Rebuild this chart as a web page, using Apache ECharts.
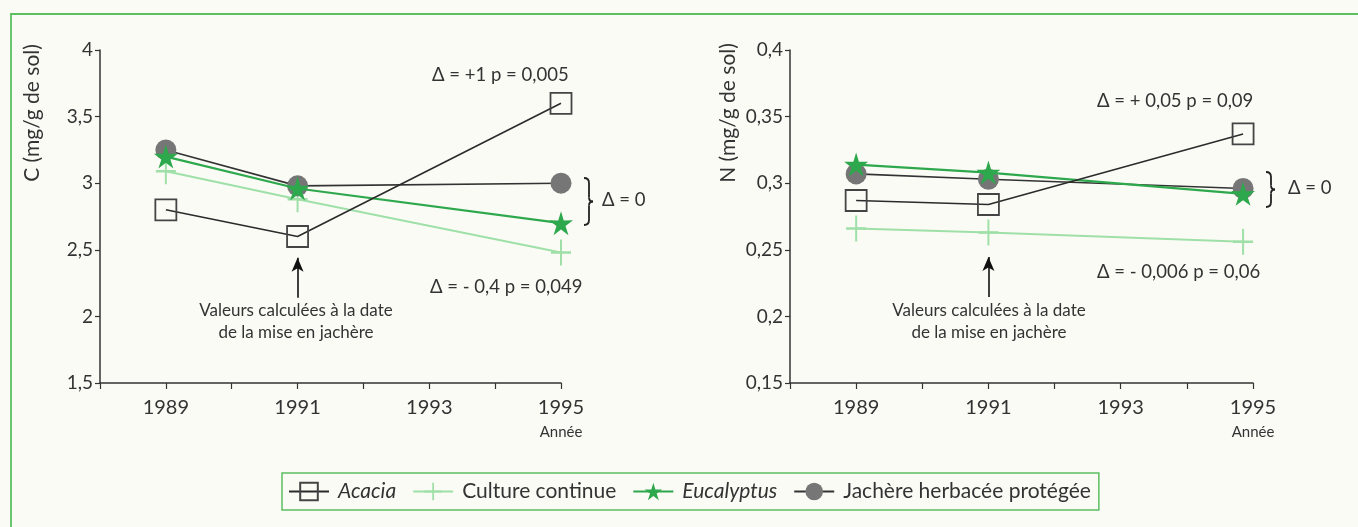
<!DOCTYPE html>
<html>
<head>
<meta charset="utf-8">
<script src="https://cdn.jsdelivr.net/npm/echarts@6/dist/echarts.min.js"></script>
<style>
html,body{margin:0;padding:0;background:#fbfbf6;}
#c{width:1358px;height:527px;}
</style>
</head>
<body>
<div id="c"></div>
<script>
// ---- data ----
var yearsLeft = [1989, 1991, 1995];
var yearsRight = [1989, 1991, 1994.85];
var seriesNames = ['Acacia', 'Culture continue', 'Eucalyptus', 'Jachère herbacée protégée'];
// C (mg/g de sol)
var cAcacia = [2.80, 2.60, 3.60];
var cCulture = [3.09, 2.88, 2.48];
var cEucalyptus = [3.20, 2.96, 2.70];
var cJachere = [3.25, 2.98, 3.00];
// N (mg/g de sol)
var nAcacia = [0.287, 0.284, 0.337];
var nCulture = [0.266, 0.263, 0.256];
var nEucalyptus = [0.314, 0.308, 0.292];
var nJachere = [0.307, 0.303, 0.296];
var xTickYears = [1989, 1991, 1993, 1995];

var FONT = 'Lato';
var TXT = '#333333';
var GREEN_FRAME = '#5cbf62';
var C_ACACIA = '#2b2b2b';
var C_CULTURE = '#9fe0a8';
var C_EUCA = '#2ea84c';
var C_JACH = '#333333';
var C_JACH_DOT = '#767676';

var STAR = 'path://M0,-100 L22,-30 L95,-31 L36,12 L59,81 L0,38 L-59,81 L-36,12 L-95,-31 L-22,-30 Z';
var PLUS = 'path://M-1,-10 L1,-10 L1,-1 L10,-1 L10,1 L1,1 L1,10 L-1,10 L-1,1 L-10,1 L-10,-1 L-1,-1 Z';

function pairs(xs, ys) { return xs.map(function (x, i) { return [x, ys[i]]; }); }
function fmtNum(v) { return String(parseFloat(v.toFixed(3))).replace('.', ','); }

function xAxisDef(idx) {
  return {
    gridIndex: idx, type: 'value', min: 1988, max: 1995, interval: 1,
    axisLine: { lineStyle: { color: '#333', width: 1.5 } },
    axisTick: { show: true, length: 6, lineStyle: { color: '#333', width: 1.2 } },
    splitLine: { show: false },
    axisLabel: {
      margin: 13,
      formatter: function (v) {
        if (v === 1995) return '{a|1995}\n{b|Année}';
        if (xTickYears.indexOf(v) >= 0) return '{a|' + v + '}';
        return '';
      },
      rich: {
        a: { fontFamily: FONT, fontSize: 20, color: TXT, lineHeight: 23 },
        b: { fontFamily: FONT, fontSize: 15, color: TXT, lineHeight: 26 }
      }
    }
  };
}
function yAxisDef(idx, min, max, interval) {
  return {
    gridIndex: idx, type: 'value', min: min, max: max, interval: interval,
    axisLine: { show: true, lineStyle: { color: '#333', width: 1.5 } },
    axisTick: { show: true, length: 5, lineStyle: { color: '#333', width: 1.2 } },
    splitLine: { show: false },
    axisLabel: { margin: 7, fontFamily: FONT, fontSize: 19, color: TXT, formatter: fmtNum }
  };
}

function mkSeries(name, idx, xs, ys, kind, extra) {
  var s = { name: name, type: 'line', xAxisIndex: idx, yAxisIndex: idx, data: pairs(xs, ys), animation: false };
  if (kind === 'acacia') {
    s.symbol = 'rect'; s.symbolSize = 21; s.z = 5;
    s.lineStyle = { color: C_ACACIA, width: 1.6 };
    s.itemStyle = { color: 'rgba(251,251,246,0)', borderColor: '#444', borderWidth: 1.8 };
  } else if (kind === 'culture') {
    s.symbol = PLUS; s.symbolSize = [20, 26]; s.z = 2;
    s.lineStyle = { color: C_CULTURE, width: 2 };
    s.itemStyle = { color: C_CULTURE };
  } else if (kind === 'euca') {
    s.symbol = STAR; s.symbolSize = 24; s.z = 4;
    s.lineStyle = { color: C_EUCA, width: 2.2 };
    s.itemStyle = { color: C_EUCA };
  } else {
    s.symbol = 'circle'; s.symbolSize = 21; s.z = 3;
    s.lineStyle = { color: C_JACH, width: 1.6 };
    s.itemStyle = { color: C_JACH_DOT };
  }
  if (extra) for (var k in extra) s[k] = extra[k];
  return s;
}

function arrowLine(x, y0, y1) {
  return {
    silent: true, symbol: ['none', 'arrow'], symbolSize: [9, 14],
    lineStyle: { color: '#111', width: 1.6, type: 'solid' },
    label: { show: false },
    data: [[{ coord: [x, y0] }, { coord: [x, y1] }]]
  };
}

function txt(x, y, s, opts) {
  var o = { type: 'text', x: x, y: y, style: { text: s, fontFamily: FONT, fontSize: 18, fill: TXT, textAlign: 'left', textVerticalAlign: 'middle' } };
  if (opts) for (var k in opts) o.style[k] = opts[k];
  return o;
}
var BRACE_STYLE = { stroke: '#222', lineWidth: 1.8, fill: null };
function brace(x, y0, y1) {
  var ym = (y0 + y1) / 2;
  var xb = x + 5, xt = x + 9;
  return {
    type: 'group',
    children: [
      { type: 'bezierCurve', shape: { x1: x, y1: y0, cpx1: xb, cpy1: y0, x2: xb, y2: y0 + 5 }, style: BRACE_STYLE },
      { type: 'line', shape: { x1: xb, y1: y0 + 5, x2: xb, y2: ym - 4 }, style: BRACE_STYLE },
      { type: 'bezierCurve', shape: { x1: xb, y1: ym - 4, cpx1: xb, cpy1: ym, x2: xt, y2: ym }, style: BRACE_STYLE },
      { type: 'bezierCurve', shape: { x1: xt, y1: ym, cpx1: xb, cpy1: ym, x2: xb, y2: ym + 4 }, style: BRACE_STYLE },
      { type: 'line', shape: { x1: xb, y1: ym + 4, x2: xb, y2: y1 - 5 }, style: BRACE_STYLE },
      { type: 'bezierCurve', shape: { x1: xb, y1: y1 - 5, cpx1: xb, cpy1: y1, x2: x, y2: y1 }, style: BRACE_STYLE }
    ]
  };
}

var chart = echarts.init(document.getElementById('c'));
var option = {
  backgroundColor: '#fbfbf6',
  animation: false,
  grid: [
    { left: 100, top: 50, width: 461, height: 333 },
    { left: 790, top: 50, width: 463, height: 333 }
  ],
  xAxis: [xAxisDef(0), xAxisDef(1)],
  yAxis: [yAxisDef(0, 1.5, 4, 0.5), yAxisDef(1, 0.15, 0.4, 0.05)],
  legend: {
    left: 282, top: 473,
    orient: 'horizontal',
    padding: [8, 8, 8, 6],
    borderColor: GREEN_FRAME, borderWidth: 1.5,
    itemWidth: 40, itemHeight: 22, itemGap: 16,
    textStyle: { fontFamily: FONT, fontSize: 21, color: TXT, padding: [0, 0, 0, 4] },
    data: [
      { name: 'Acacia', textStyle: { fontStyle: 'italic' } },
      { name: 'Culture continue' },
      { name: 'Eucalyptus', textStyle: { fontStyle: 'italic' } },
      { name: 'Jachère herbacée protégée' }
    ]
  },
  series: [
    mkSeries('Culture continue', 0, yearsLeft, cCulture, 'culture'),
    mkSeries('Jachère herbacée protégée', 0, yearsLeft, cJachere, 'jach'),
    mkSeries('Eucalyptus', 0, yearsLeft, cEucalyptus, 'euca'),
    mkSeries('Acacia', 0, yearsLeft, cAcacia, 'acacia', { markLine: arrowLine(1991, 2.14, 2.44) }),
    mkSeries('Culture continue', 1, yearsRight, nCulture, 'culture'),
    mkSeries('Jachère herbacée protégée', 1, yearsRight, nJachere, 'jach'),
    mkSeries('Eucalyptus', 1, yearsRight, nEucalyptus, 'euca'),
    mkSeries('Acacia', 1, yearsRight, nAcacia, 'acacia', { markLine: arrowLine(1991, 0.2146, 0.2446) })
  ],
  graphic: [
    { type: 'polyline', shape: { points: [[11, 527], [11, 14], [1358, 14]] }, style: { stroke: GREEN_FRAME, lineWidth: 1.8, fill: null } },
    { type: 'text', x: 32, y: 113, rotation: Math.PI / 2, style: { text: 'C (mg/g de sol)', fontFamily: FONT, fontSize: 21, fill: TXT, textAlign: 'center', textVerticalAlign: 'middle' } },
    { type: 'text', x: 728, y: 113, rotation: Math.PI / 2, style: { text: 'N (mg/g de sol)', fontFamily: FONT, fontSize: 21, fill: TXT, textAlign: 'center', textVerticalAlign: 'middle' } },
    txt(432, 75, 'Δ = +1 p = 0,005', { fontSize: 18.5 }),
    txt(430, 287, 'Δ = - 0,4 p = 0,049', { fontSize: 18.5 }),
    txt(296, 311, 'Valeurs calculées à la date', { textAlign: 'center', fontSize: 17 }),
    txt(296, 333, 'de la mise en jachère', { textAlign: 'center', fontSize: 17 }),
    brace(584, 178, 225),
    txt(602, 200, 'Δ = 0', { fontSize: 18.5 }),
    txt(1097, 101, 'Δ = + 0,05 p = 0,09', { fontSize: 18.5 }),
    txt(1097, 272, 'Δ = - 0,006 p = 0,06', { fontSize: 18.5 }),
    txt(989, 311, 'Valeurs calculées à la date', { textAlign: 'center', fontSize: 17 }),
    txt(989, 333, 'de la mise en jachère', { textAlign: 'center', fontSize: 17 }),
    brace(1266, 172, 207),
    txt(1288, 188, 'Δ = 0', { fontSize: 18.5 })
  ]
};
chart.setOption(option);
</script>
</body>
</html>
